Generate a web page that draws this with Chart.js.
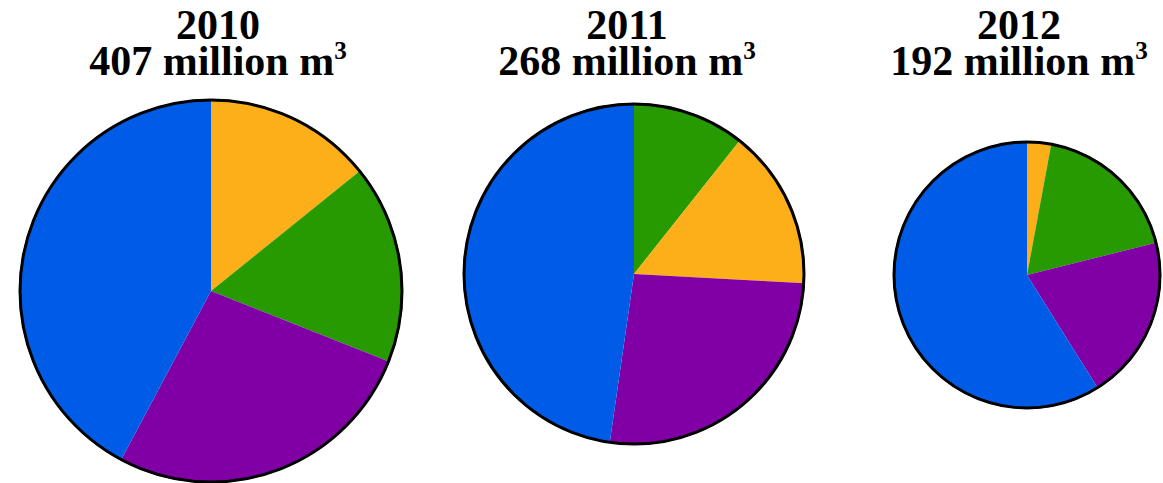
<!DOCTYPE html>
<html>
<head>
<meta charset="utf-8">
<script src="https://cdn.jsdelivr.net/npm/chart.js@4"></script>
<style>
  html, body { margin: 0; padding: 0; background: #fff; overflow: hidden; }
  body { width: 1163px; height: 483px; position: relative; }
  .title {
    position: absolute; width: 320px; text-align: center;
    font-family: "Liberation Serif", "Times New Roman", serif;
    font-weight: bold; font-size: 42px; line-height: 36px; color: #000;
  }
  .title sup { font-size: 0.6em; line-height: 0; vertical-align: 0.62em; }
  .pie { position: absolute; }
</style>
</head>
<body>

<div class="title" style="left:58px; top:7px;">2010<br>407 million m<sup>3</sup></div>
<div class="title" style="left:467px; top:7px;">2011<br>268 million m<sup>3</sup></div>
<div class="title" style="left:859px; top:7px;">2012<br>192 million m<sup>3</sup></div>

<div class="pie" id="box2010"><canvas id="pie2010"></canvas></div>
<div class="pie" id="box2011"><canvas id="pie2011"></canvas></div>
<div class="pie" id="box2012"><canvas id="pie2012"></canvas></div>

<script>
// volumes in million m3, listed clockwise from 12 o'clock
const years = ["2010", "2011", "2012"];
const labels2010 = ["Orange", "Green", "Purple", "Blue"];
const values2010 = [57.8, 68.4, 109.0, 171.8];
const labels2011 = ["Green", "Orange", "Purple", "Blue"];
const values2011 = [28.6, 40.7, 70.8, 127.9];
const labels2012 = ["Orange", "Green", "Purple", "Blue"];
const values2012 = [5.6, 34.9, 38.4, 113.1];

const sliceColors = {
    Orange: "rgb(253,175,26)",
    Green: "rgb(38,154,0)",
    Purple: "rgb(128,0,166)",
    Blue: "rgb(0,92,230)",
};

// black ring round the whole pie
const outline = {
    id: "outline",
    afterDatasetsDraw(chart) {
        const arc = chart.getDatasetMeta(0).data[0];
        if (!arc) return;
        const ctx = chart.ctx;
        ctx.save();
        ctx.beginPath();
        ctx.arc(arc.x, arc.y, arc.outerRadius - 1, 0, Math.PI * 2);
        ctx.lineWidth = 3;
        ctx.strokeStyle = "#000";
        ctx.stroke();
        ctx.restore();
    }
};

function drawPie(id, labels, values, cx, cy, r) {
    const box = document.getElementById("box" + id);
    const size = 2 * r + 10;
    box.style.left = (cx - size / 2) + "px";
    box.style.top = (cy - size / 2) + "px";
    box.style.width = size + "px";
    box.style.height = size + "px";

    new Chart("pie" + id, {
        type: "pie",
        data: {
            labels: labels,
            datasets: [{
                data: values,
                backgroundColor: labels.map(l => sliceColors[l]),
                borderWidth: 0,
                radius: r,
            }],
        },
        options: {
            responsive: true,
            maintainAspectRatio: false,
            animation: false,
            layout: { padding: 0 },
            plugins: {
                legend: { display: false },
                tooltip: { enabled: false },
            },
        },
        plugins: [outline],
    });
}

drawPie(years[0], labels2010, values2010, 211, 291, 192);
drawPie(years[1], labels2011, values2011, 634, 274, 171);
drawPie(years[2], labels2012, values2012, 1027, 275, 134);
</script>
</body>
</html>
